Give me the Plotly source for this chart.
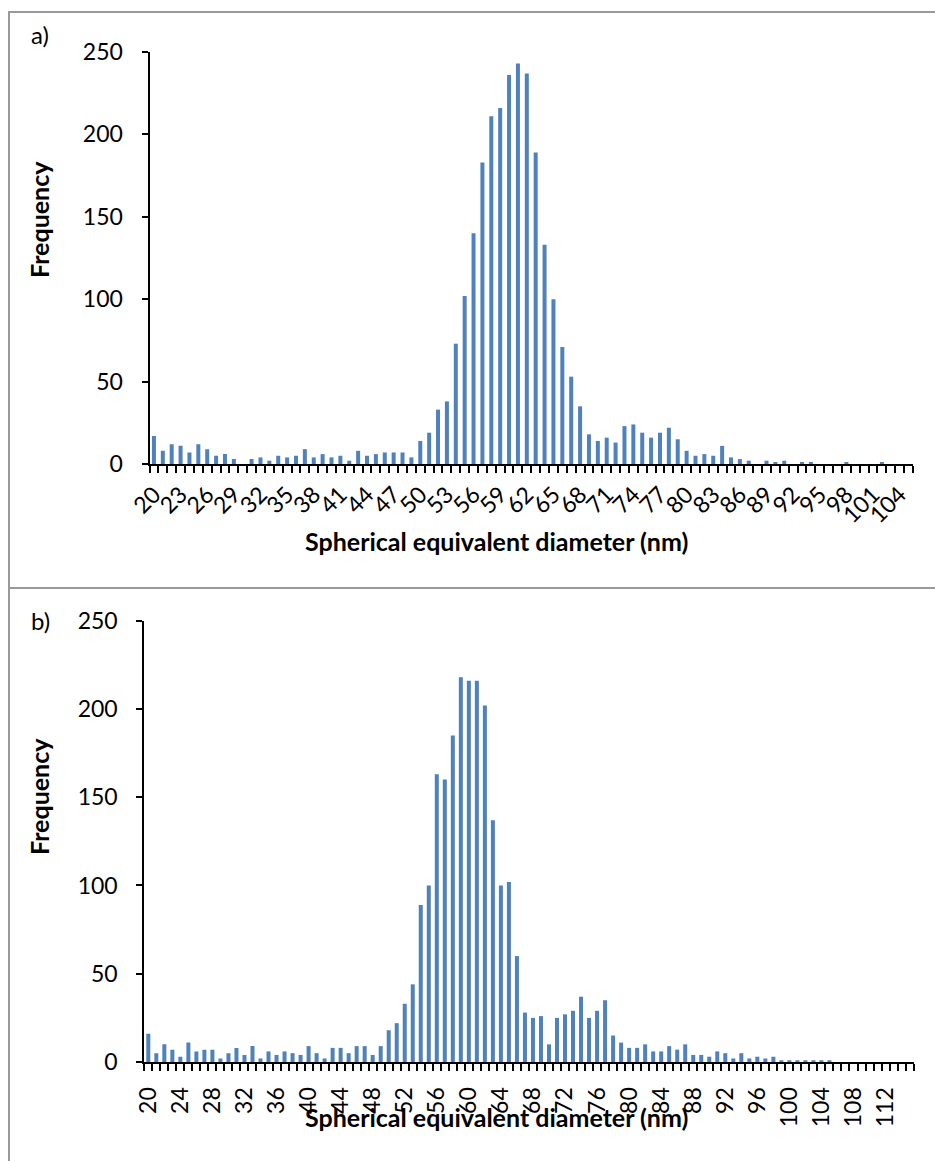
import plotly.graph_objects as go

# ---------------- data ----------------
diam_a = list(range(20, 106))
freq_a = [17, 8, 12, 11, 7, 12, 9, 5, 6, 3,
          0, 3, 4, 2, 5, 4, 5, 9, 4, 6,
          4, 5, 2, 8, 5, 6, 7, 7, 7, 4,
          14, 19, 33, 38, 73, 102, 140, 183, 211, 216,
          236, 243, 237, 189, 133, 100, 71, 53, 35, 18,
          14, 16, 13, 23, 24, 19, 16, 19, 22, 15,
          8, 5, 6, 5, 11, 4, 3, 2, 0, 2,
          1, 2, 0, 1, 1, 0, 0, 0, 1, 0,
          0, 0, 1, 0, 0, 0]
ticks_a = [20, 23, 26, 29, 32, 35, 38, 41, 44, 47, 50, 53, 56, 59, 62, 65,
           68, 71, 74, 77, 80, 83, 86, 89, 92, 95, 98, 101, 104]

diam_b = list(range(20, 116))
freq_b = [16, 5, 10, 7, 3, 11, 6, 7, 7, 2,
          5, 8, 4, 9, 2, 6, 4, 6, 5, 4,
          9, 5, 2, 8, 8, 5, 9, 9, 4, 9,
          18, 22, 33, 44, 89, 100, 163, 160, 185, 218,
          216, 216, 202, 137, 100, 102, 60, 28, 25, 26,
          10, 25, 27, 29, 37, 25, 29, 35, 15, 11,
          8, 8, 10, 6, 6, 9, 7, 10, 4, 4,
          3, 6, 5, 2, 5, 2, 3, 2, 3, 1,
          1, 1, 1, 1, 1, 1, 0, 0, 0, 0,
          0, 0, 0, 0, 0, 0]
ticks_b = [20, 24, 28, 32, 36, 40, 44, 48, 52, 56, 60, 64, 68, 72, 76, 80,
           84, 88, 92, 96, 100, 104, 108, 112]

y_ticks = [0, 50, 100, 150, 200, 250]
x_title = "Spherical equivalent diameter (nm)"
y_title = "Frequency"

# ---------------- layout helpers ----------------
W, H = 935, 1161
FONT = "Lato"
BAR = "#4F81BD"


def px_x(v):
    return v / W


def px_y(v):
    return 1 - v / H


fig = go.Figure()
fig.add_trace(go.Bar(x=diam_a, y=freq_a, marker=dict(color=BAR, line=dict(width=0)),
                     width=0.45, xaxis="x", yaxis="y", showlegend=False))
fig.add_trace(go.Bar(x=diam_b, y=freq_b, marker=dict(color=BAR, line=dict(width=0)),
                     width=0.5, xaxis="x2", yaxis="y2", showlegend=False))

tickfont = dict(family=FONT, size=23, color="black")

common_x = dict(showline=True, linecolor="black", linewidth=2, showgrid=False,
                zeroline=False, ticks="", tickmode="array", tickfont=tickfont,
                automargin=False,
                minor=dict(ticks="outside", ticklen=7, tickwidth=2, tickcolor="black",
                           tickmode="linear", tick0=19.5, dtick=1, showgrid=False))
common_y = dict(showline=True, linecolor="black", linewidth=2, showgrid=False,
                zeroline=False, ticks="outside", ticklen=6, tickwidth=2,
                tickcolor="black", tickmode="array", tickvals=y_ticks,
                tickfont=tickfont, range=[0, 250], ticklabelstandoff=14,
                automargin=False)

fig.update_layout(
    width=W, height=H, autosize=False,
    margin=dict(l=0, r=0, t=0, b=0, pad=0),
    paper_bgcolor="white", plot_bgcolor="white",
    font=dict(family=FONT, color="black"),
    xaxis=dict(common_x, domain=[px_x(149.5), px_x(913)], range=[19.5, 105.5],
               tickvals=ticks_a, ticktext=[str(t) for t in ticks_a],
               tickangle=-45, anchor="y", ticklabelstandoff=6),
    yaxis=dict(common_y, domain=[px_y(464), px_y(52)], anchor="x"),
    xaxis2=dict(common_x, domain=[px_x(144.3), px_x(913.6)], range=[19.5, 115.5],
                tickvals=ticks_b, ticktext=[str(t) for t in ticks_b],
                tickangle=-90, anchor="y2", ticklabelstandoff=14),
    yaxis2=dict(common_y, domain=[px_y(1062), px_y(620.7)], anchor="x2"),
)

# panel borders
border = dict(color="#999999", width=2)
fig.add_shape(type="rect", xref="paper", yref="paper",
              x0=px_x(9), x1=px_x(945), y0=px_y(588), y1=px_y(12), line=border,
              fillcolor="rgba(0,0,0,0)", layer="below")
fig.add_shape(type="rect", xref="paper", yref="paper",
              x0=px_x(9), x1=px_x(945), y0=px_y(1175), y1=px_y(588), line=border,
              fillcolor="rgba(0,0,0,0)", layer="below")

ann_font = dict(family=FONT, size=25, color="black")
for lbl, yc in [("a)", 34), ("b)", 621)]:
    fig.add_annotation(text=lbl, xref="paper", yref="paper", x=px_x(40), y=px_y(yc),
                       xanchor="center", yanchor="middle", showarrow=False,
                       font=dict(family=FONT, size=24, color="black"))
for yc in [220, 797]:
    fig.add_annotation(text="<b>%s</b>" % y_title, xref="paper", yref="paper",
                       x=px_x(39), y=px_y(yc), textangle=-90, xanchor="center",
                       yanchor="middle", showarrow=False, font=ann_font)
for yc in [541, 1117]:
    fig.add_annotation(text="<b>%s</b>" % x_title, xref="paper", yref="paper",
                       x=px_x(496), y=px_y(yc), xanchor="center", yanchor="middle",
                       showarrow=False, font=ann_font)

fig.write_html("out.html")
